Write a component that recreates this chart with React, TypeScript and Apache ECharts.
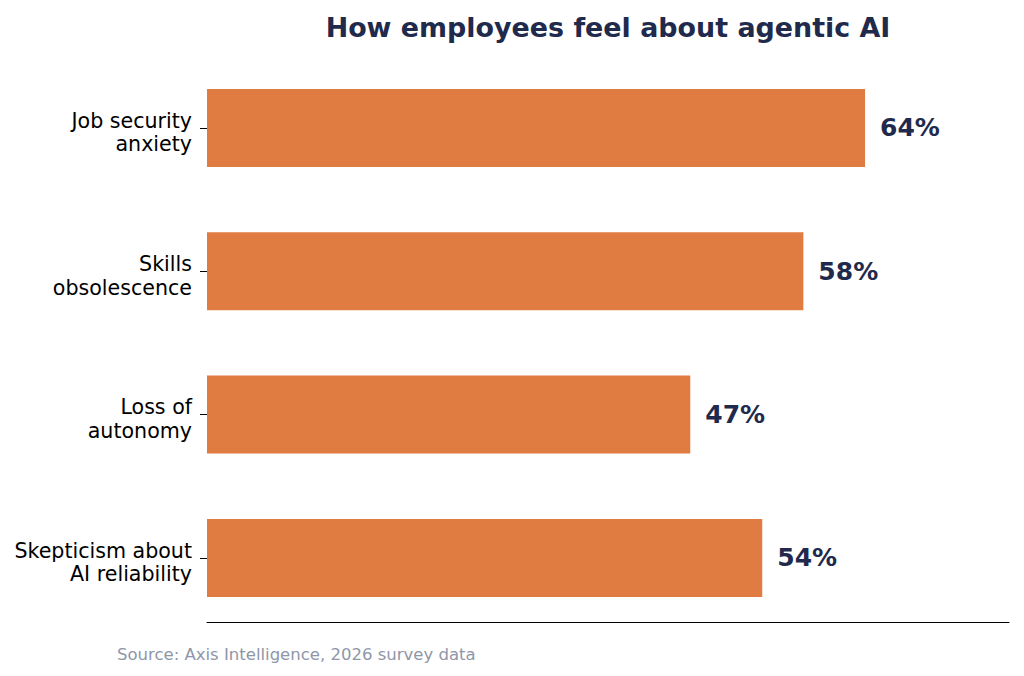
import React, { useEffect, useRef } from "react";
import * as echarts from "echarts";

const categories = [
  "Job security\nanxiety",
  "Skills\nobsolescence",
  "Loss of\nautonomy",
  "Skepticism about\nAI reliability",
];
const values = [64, 58, 47, 54];
const titleText = "How employees feel about agentic AI";
const sourceText = "Source: Axis Intelligence, 2026 survey data";

const FONT = "DejaVu Sans";
const NAVY = "#1f2a4c";
const ORANGE = "#e07b41";

export default function App() {
  const ref = useRef<HTMLDivElement>(null);
  useEffect(() => {
    if (!ref.current) return;
    const chart = echarts.init(ref.current, null, { renderer: "svg" });
    chart.setOption({
      animation: false,
      backgroundColor: "#ffffff",
      textStyle: { fontFamily: FONT },
      grid: { left: 207, right: 15, top: 56.3, height: 573.3, containLabel: false },
      xAxis: {
        type: "value",
        min: 0,
        max: 78,
        offset: -7.7,
        axisLine: { show: true, lineStyle: { color: "#000", width: 1.2 } },
        axisTick: { show: false },
        axisLabel: { show: false },
        splitLine: { show: false },
      },
      yAxis: {
        type: "category",
        inverse: true,
        data: categories,
        axisLine: { show: false },
        axisTick: { show: true, length: 7, alignWithLabel: true, lineStyle: { color: "#000", width: 1 } },
        axisLabel: {
          margin: 15,
          fontSize: 20.6,
          lineHeight: 23.5,
          color: "#000",
          fontFamily: FONT,
          align: "right",
          formatter: (v: string) =>
            "{e| }\n" + v.split("\n").map((s) => `{t|${s}}`).join("\n"),
          rich: {
            e: { fontSize: 1, lineHeight: 9 },
            t: { fontSize: 20.6, lineHeight: 23.5, color: "#000", fontFamily: FONT, align: "right" },
          },
        },
      },
      series: [
        {
          type: "bar",
          data: values,
          barWidth: 78,
          itemStyle: { color: ORANGE },
          label: {
            show: true,
            position: "right",
            distance: 15,
            formatter: "{c}%",
            fontSize: 25,
            fontWeight: "bold",
            color: NAVY,
            fontFamily: FONT,
          },
        },
      ],
      graphic: [
        {
          type: "text",
          x: 608,
          y: 27,
          style: {
            text: titleText,
            fontSize: 26.9,
            fontWeight: "bold",
            fill: NAVY,
            fontFamily: FONT,
            textAlign: "center",
            textVerticalAlign: "middle",
          },
        },
        {
          type: "text",
          x: 117,
          y: 654,
          style: {
            text: sourceText,
            fontSize: 16.5,
            fill: "#8e96a8",
            fontFamily: FONT,
            textAlign: "left",
            textVerticalAlign: "middle",
          },
        },
      ],
    });
    return () => chart.dispose();
  }, []);
  return <div ref={ref} style={{ width: 1024, height: 676, position: "absolute", left: 0, top: 0 }} />;
}
